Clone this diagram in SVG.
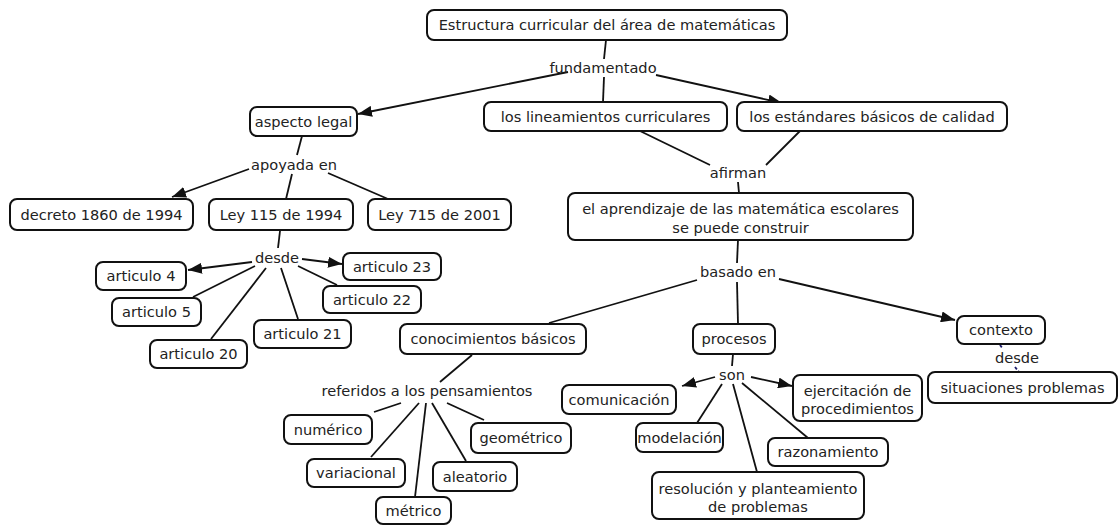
<svg xmlns="http://www.w3.org/2000/svg" width="1119" height="525" viewBox="0 0 1119 525">
<defs>
<style>
.box{fill:#fff;stroke:#111;stroke-width:2}
text{font-family:"DejaVu Sans","Liberation Sans",sans-serif;font-size:14.6px;fill:#222;text-anchor:middle}
.ln{stroke:#111;stroke-width:1.8;fill:none}
.ar{stroke:#111;stroke-width:1.8;fill:none;marker-end:url(#ah)}
.dash{stroke:#1b1b6b;stroke-width:1.8;stroke-dasharray:3 2;fill:none}
</style>
<marker id="ah" viewBox="0 0 14 11" refX="14" refY="5.5" markerWidth="14" markerHeight="11" markerUnits="userSpaceOnUse" orient="auto">
<path d="M0,0 L14,5.5 L0,11 z" fill="#111"/>
</marker>
</defs>
<rect width="1119" height="525" fill="#fff"/>
<g id="connectors">
<line class="ln" x1="606" y1="40" x2="604" y2="59"/>
<line class="ar" x1="568" y1="72" x2="358" y2="114"/>
<line class="ln" x1="604" y1="77" x2="603" y2="102"/>
<line class="ar" x1="656" y1="75" x2="782" y2="103"/>
<line class="ln" x1="302" y1="136" x2="297" y2="155"/>
<line class="ar" x1="249" y1="169" x2="172" y2="197"/>
<line class="ln" x1="292" y1="174" x2="286" y2="199"/>
<line class="ln" x1="328" y1="173" x2="388" y2="199"/>
<line class="ln" x1="640" y1="131" x2="710" y2="165"/>
<line class="ln" x1="800" y1="131" x2="766" y2="165"/>
<line class="ln" x1="738" y1="182" x2="739" y2="193"/>
<line class="ln" x1="280" y1="231" x2="278" y2="248"/>
<line class="ar" x1="252" y1="262" x2="188" y2="270"/>
<line class="ar" x1="302" y1="259" x2="342" y2="264"/>
<line class="ln" x1="255" y1="266" x2="193" y2="297"/>
<line class="ln" x1="266" y1="268" x2="211" y2="339"/>
<line class="ln" x1="281" y1="268" x2="298" y2="319"/>
<line class="ln" x1="298" y1="266" x2="337" y2="285"/>
<line class="ln" x1="738" y1="240" x2="737" y2="263"/>
<line class="ln" x1="697" y1="280" x2="549" y2="323"/>
<line class="ln" x1="737" y1="282" x2="738" y2="324"/>
<line class="ar" x1="779" y1="279" x2="955" y2="320"/>
<line class="dash" x1="1000" y1="345" x2="1003" y2="349"/>
<line class="dash" x1="1015" y1="367" x2="1019" y2="372"/>
<line class="ln" x1="733" y1="354" x2="732" y2="366"/>
<line class="ar" x1="715" y1="377" x2="682" y2="386"/>
<line class="ar" x1="751" y1="377" x2="792" y2="386"/>
<line class="ln" x1="722" y1="384" x2="697" y2="423"/>
<line class="ln" x1="733" y1="384" x2="757" y2="472"/>
<line class="ln" x1="742" y1="383" x2="808" y2="438"/>
<line class="ln" x1="472" y1="355" x2="440" y2="382"/>
<line class="ln" x1="401" y1="403" x2="374" y2="412"/>
<line class="ln" x1="419" y1="403" x2="371" y2="457"/>
<line class="ln" x1="426" y1="403" x2="415" y2="497"/>
<line class="ln" x1="432" y1="403" x2="466" y2="461"/>
<line class="ln" x1="447" y1="403" x2="484" y2="420"/>
</g>
<g id="labels">
<text x="603" y="73">fundamentado</text>
<text x="294" y="170">apoyada en</text>
<text x="738" y="178">afirman</text>
<text x="277" y="263">desde</text>
<text x="738" y="277">basado en</text>
<text x="1017" y="363">desde</text>
<text x="732" y="380">son</text>
<text x="427" y="396">referidos a los pensamientos</text>
</g>
<g id="n-estructura"><rect class="box" x="427" y="10" width="360" height="30" rx="7"/><text x="607" y="30">Estructura curricular del área de matemáticas</text></g>
<g id="n-aspecto"><rect class="box" x="250" y="107" width="107" height="29" rx="7"/><text x="303.5" y="126.5">aspecto legal</text></g>
<g id="n-lineamientos"><rect class="box" x="484" y="102" width="243" height="29" rx="7"/><text x="605.5" y="121.5">los lineamientos curriculares</text></g>
<g id="n-estandares"><rect class="box" x="737" y="102" width="270" height="29" rx="7"/><text x="872" y="121.5">los estándares básicos de calidad</text></g>
<g id="n-decreto"><rect class="box" x="10" y="199" width="183" height="31" rx="7"/><text x="101.5" y="219.5">decreto 1860 de 1994</text></g>
<g id="n-ley115"><rect class="box" x="209" y="199" width="144" height="31" rx="7"/><text x="281" y="219.5">Ley 115 de 1994</text></g>
<g id="n-ley715"><rect class="box" x="368" y="199" width="143" height="31" rx="7"/><text x="439.5" y="219.5">Ley 715 de 2001</text></g>
<g id="n-aprendizaje"><rect class="box" x="568" y="193" width="345" height="47" rx="7"/><text x="740.5" y="214">el aprendizaje de las matemática escolares</text><text x="740.5" y="232.5">se puede construir</text></g>
<g id="n-art4"><rect class="box" x="96" y="262" width="90" height="28" rx="7"/><text x="141" y="281">articulo 4</text></g>
<g id="n-art23"><rect class="box" x="343" y="253" width="98" height="27" rx="7"/><text x="392" y="271.5">articulo 23</text></g>
<g id="n-art5"><rect class="box" x="112" y="298" width="89" height="28" rx="7"/><text x="156.5" y="317">articulo 5</text></g>
<g id="n-art22"><rect class="box" x="323" y="286" width="98" height="27" rx="7"/><text x="372" y="304.5">articulo 22</text></g>
<g id="n-art21"><rect class="box" x="254" y="320" width="97" height="28" rx="7"/><text x="302.5" y="339">articulo 21</text></g>
<g id="n-art20"><rect class="box" x="150" y="340" width="97" height="28" rx="7"/><text x="198.5" y="359">articulo 20</text></g>
<g id="n-conocimientos"><rect class="box" x="400" y="324" width="186" height="30" rx="7"/><text x="493" y="344">conocimientos básicos</text></g>
<g id="n-procesos"><rect class="box" x="693" y="324" width="82" height="30" rx="7"/><text x="734" y="344">procesos</text></g>
<g id="n-contexto"><rect class="box" x="957" y="316" width="88" height="28" rx="7"/><text x="1001" y="335">contexto</text></g>
<g id="n-situaciones"><rect class="box" x="928" y="372" width="189" height="31" rx="7"/><text x="1022.5" y="392.5">situaciones problemas</text></g>
<g id="n-comunicacion"><rect class="box" x="562" y="385" width="114" height="29" rx="7"/><text x="619" y="404.5">comunicación</text></g>
<g id="n-ejercitacion"><rect class="box" x="793" y="375" width="129" height="46" rx="7"/><text x="857.5" y="395.5">ejercitación de</text><text x="857.5" y="413.5">procedimientos</text></g>
<g id="n-numerico"><rect class="box" x="284" y="415" width="88" height="29" rx="7"/><text x="328" y="434.5">numérico</text></g>
<g id="n-geometrico"><rect class="box" x="471" y="423" width="100" height="30" rx="7"/><text x="521" y="443">geométrico</text></g>
<g id="n-modelacion"><rect class="box" x="636" y="423" width="87" height="29" rx="7"/><text x="679.5" y="442.5">modelación</text></g>
<g id="n-razonamiento"><rect class="box" x="768" y="438" width="120" height="28" rx="7"/><text x="828" y="457">razonamiento</text></g>
<g id="n-variacional"><rect class="box" x="307" y="459" width="98" height="28" rx="7"/><text x="356" y="478">variacional</text></g>
<g id="n-aleatorio"><rect class="box" x="433" y="462" width="84" height="29" rx="7"/><text x="475" y="481.5">aleatorio</text></g>
<g id="n-resolucion"><rect class="box" x="652" y="472" width="212" height="47" rx="7"/><text x="758" y="493.5">resolución y planteamiento</text><text x="758" y="511.5">de problemas</text></g>
<g id="n-metrico"><rect class="box" x="376" y="497" width="75" height="27" rx="7"/><text x="413.5" y="515.5">métrico</text></g>
</svg>
